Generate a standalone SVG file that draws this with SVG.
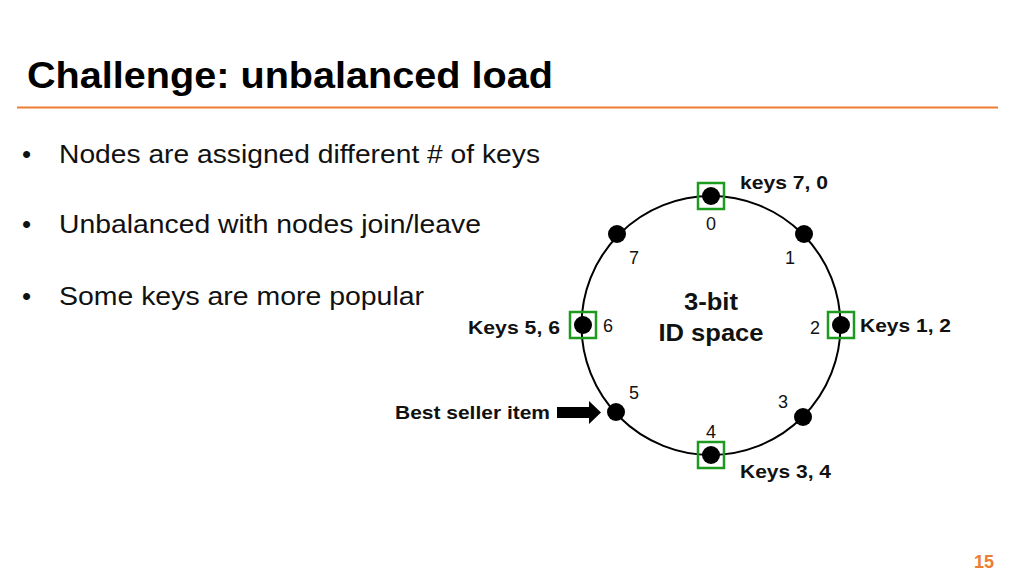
<svg xmlns="http://www.w3.org/2000/svg" width="1024" height="576" viewBox="0 0 1024 576">
<style>
.b{font-family:"Liberation Sans",Arial,sans-serif;font-size:26px;fill:#111}
.lbl{font-family:"Liberation Sans",Arial,sans-serif;font-size:19px;font-weight:bold;fill:#111}
.num{font-family:"Liberation Sans",Arial,sans-serif;font-size:18px;fill:#111;text-anchor:middle}
.dot{fill:#000}
.box{fill:none;stroke:#1e9a1e;stroke-width:2.5}
</style>
<rect width="1024" height="576" fill="#fff"/>
<text x="27" y="88" font-family="'Liberation Sans',Arial,sans-serif" font-size="37" font-weight="bold" fill="#000" textLength="526" lengthAdjust="spacingAndGlyphs">Challenge: unbalanced load</text>
<line x1="17" y1="107.5" x2="998" y2="107.5" stroke="#ED7D31" stroke-width="2"/>
<g id="bullets">
<text class="b" x="22" y="163">•</text>
<text class="b" x="59" y="163" textLength="481" lengthAdjust="spacingAndGlyphs">Nodes are assigned different # of keys</text>
<text class="b" x="22" y="233">•</text>
<text class="b" x="59" y="233" textLength="422" lengthAdjust="spacingAndGlyphs">Unbalanced with nodes join/leave</text>
<text class="b" x="22" y="305">•</text>
<text class="b" x="59" y="305" textLength="365" lengthAdjust="spacingAndGlyphs">Some keys are more popular</text>
</g>
<g id="connectors">
<circle cx="711" cy="325.5" r="129.5" fill="none" stroke="#000" stroke-width="2"/>
<path d="M557 407 H589 V401 L601 412.5 L589 424 V418 H557 Z" fill="#000"/>
</g>
<g id="node0"><circle class="dot" cx="711" cy="196" r="9"/><rect class="box" x="698" y="183" width="26" height="26"/><text class="num" x="711" y="230">0</text><text class="lbl" x="740" y="189" textLength="88" lengthAdjust="spacingAndGlyphs">keys 7, 0</text></g>
<g id="node1"><circle class="dot" cx="804" cy="234" r="9"/><text class="num" x="790" y="264">1</text></g>
<g id="node2"><circle class="dot" cx="841" cy="325" r="9"/><rect class="box" x="828" y="312" width="26" height="26"/><text class="num" x="815" y="334">2</text><text class="lbl" x="860" y="332" textLength="91" lengthAdjust="spacingAndGlyphs">Keys 1, 2</text></g>
<g id="node3"><circle class="dot" cx="803" cy="417" r="9"/><text class="num" x="783" y="408">3</text></g>
<g id="node4"><circle class="dot" cx="711" cy="455" r="9"/><rect class="box" x="698" y="442" width="26" height="26"/><text class="num" x="711" y="438">4</text><text class="lbl" x="740" y="478" textLength="91" lengthAdjust="spacingAndGlyphs">Keys 3, 4</text></g>
<g id="node5"><circle class="dot" cx="616" cy="412" r="9"/><text class="num" x="634" y="399">5</text><text class="lbl" x="395" y="419" textLength="155" lengthAdjust="spacingAndGlyphs">Best seller item</text></g>
<g id="node6"><circle class="dot" cx="583" cy="325" r="9"/><rect class="box" x="570" y="312" width="26" height="26"/><text class="num" x="608" y="332">6</text><text class="lbl" x="468" y="334" textLength="92" lengthAdjust="spacingAndGlyphs">Keys 5, 6</text></g>
<g id="node7"><circle class="dot" cx="617" cy="234" r="9"/><text class="num" x="634" y="264">7</text></g>
<g id="center"><text x="711" y="310" font-family="'Liberation Sans',Arial,sans-serif" font-size="23" font-weight="bold" fill="#111" text-anchor="middle" textLength="54" lengthAdjust="spacingAndGlyphs">3-bit</text><text x="711" y="341" font-family="'Liberation Sans',Arial,sans-serif" font-size="24" font-weight="bold" fill="#111" text-anchor="middle" textLength="105" lengthAdjust="spacingAndGlyphs">ID space</text></g>
<text x="984" y="568" font-family="'Liberation Sans',Arial,sans-serif" font-size="18" font-weight="bold" fill="#ED7D31" text-anchor="middle">15</text>
</svg>
